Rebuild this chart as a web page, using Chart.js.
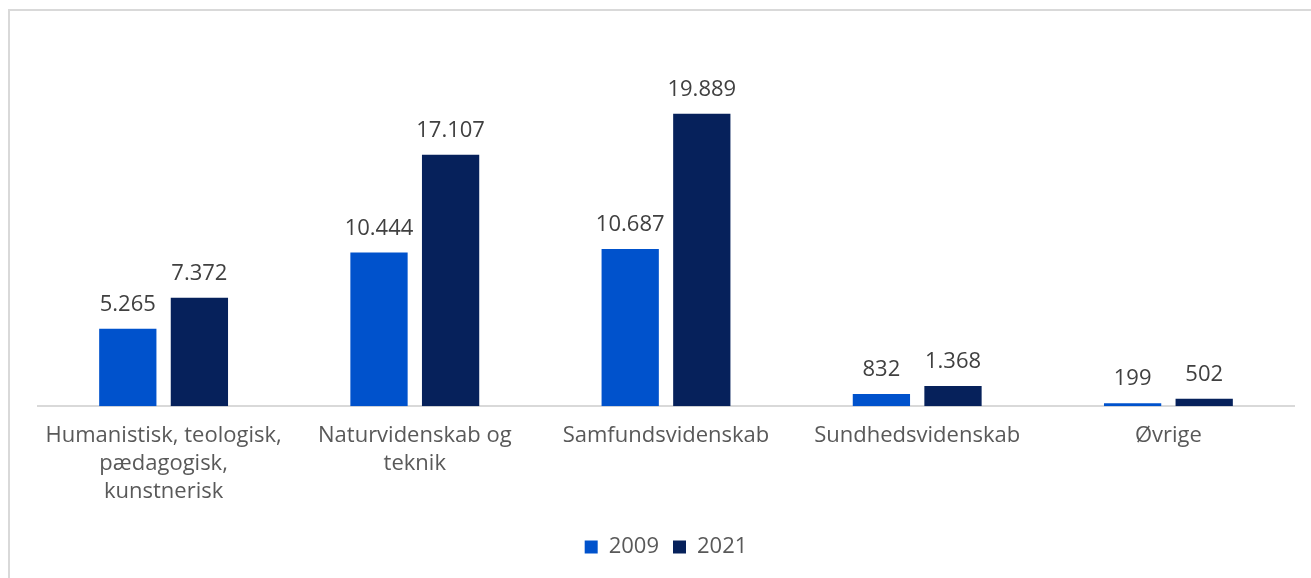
<!DOCTYPE html>
<html>
<head>
<meta charset="utf-8">
<script src="https://cdn.jsdelivr.net/npm/chart.js@4"></script>
<style>
    html, body { margin: 0; padding: 0; background: #fff; }
    #wrap { position: relative; width: 1311px; height: 578px; overflow: hidden; }
    #frame { position: absolute; left: 8px; top: 9px; width: 1400px; height: 700px; border-top: 2px solid #d9d9d9; border-left: 2px solid #d9d9d9; }
    #chart { position: absolute; left: 0; top: 0; }
</style>
</head>
<body>
<div id="wrap">
    <div id="frame"></div>
    <canvas id="chart" width="1311" height="578"></canvas>
</div>
<script>
const categories = [
    ['Humanistisk, teologisk,', 'pædagogisk,', 'kunstnerisk'],
    ['Naturvidenskab og', 'teknik'],
    'Samfundsvidenskab',
    'Sundhedsvidenskab',
    'Øvrige'
];
const values2009 = [5265, 10444, 10687, 832, 199];
const values2021 = [7372, 17107, 19889, 1368, 502];

const fontFamily = "'Open Sans', Lato, sans-serif";

function formatDk(v) {
    return String(v).replace(/\B(?=(\d{3})+(?!\d))/g, '.');
}

const valueLabels = {
    id: 'valueLabels',
    afterDatasetsDraw(chart) {
        const ctx = chart.ctx;
        ctx.save();
        ctx.font = '22px ' + fontFamily;
        ctx.fillStyle = '#404040';
        ctx.textAlign = 'center';
        ctx.textBaseline = 'alphabetic';
        chart.data.datasets.forEach(function (ds, i) {
            chart.getDatasetMeta(i).data.forEach(function (bar, j) {
                ctx.fillText(formatDk(ds.data[j]), bar.x, bar.y - 18);
            });
        });
        ctx.restore();
    }
};

new Chart(document.getElementById('chart'), {
    type: 'bar',
    data: {
        labels: categories,
        datasets: [{
            label: '2009',
            data: values2009,
            backgroundColor: '#0052cc'
        }, {
            label: '2021',
            data: values2021,
            backgroundColor: '#06215b'
        }]
    },
    options: {
        responsive: false,
        animation: false,
        devicePixelRatio: 1,
        categoryPercentage: 0.57,
        barPercentage: 0.8,
        layout: {
            padding: { left: 38, right: 17, top: 68, bottom: 10 }
        },
        plugins: {
            legend: {
                position: 'bottom',
                labels: {
                    boxWidth: 13,
                    boxHeight: 13,
                    padding: 14,
                    color: '#595959',
                    font: { family: fontFamily, size: 22 }
                }
            },
            tooltip: { enabled: false }
        },
        scales: {
            x: {
                grid: { display: false, drawTicks: false },
                border: { display: true, color: '#d9d9d9', width: 2 },
                ticks: {
                    color: '#595959',
                    padding: 16,
                    maxRotation: 0,
                    font: { family: fontFamily, size: 22, lineHeight: 1.27 }
                }
            },
            y: {
                display: false,
                min: 0,
                max: 23000
            }
        }
    },
    plugins: [valueLabels]
});
</script>
</body>
</html>
